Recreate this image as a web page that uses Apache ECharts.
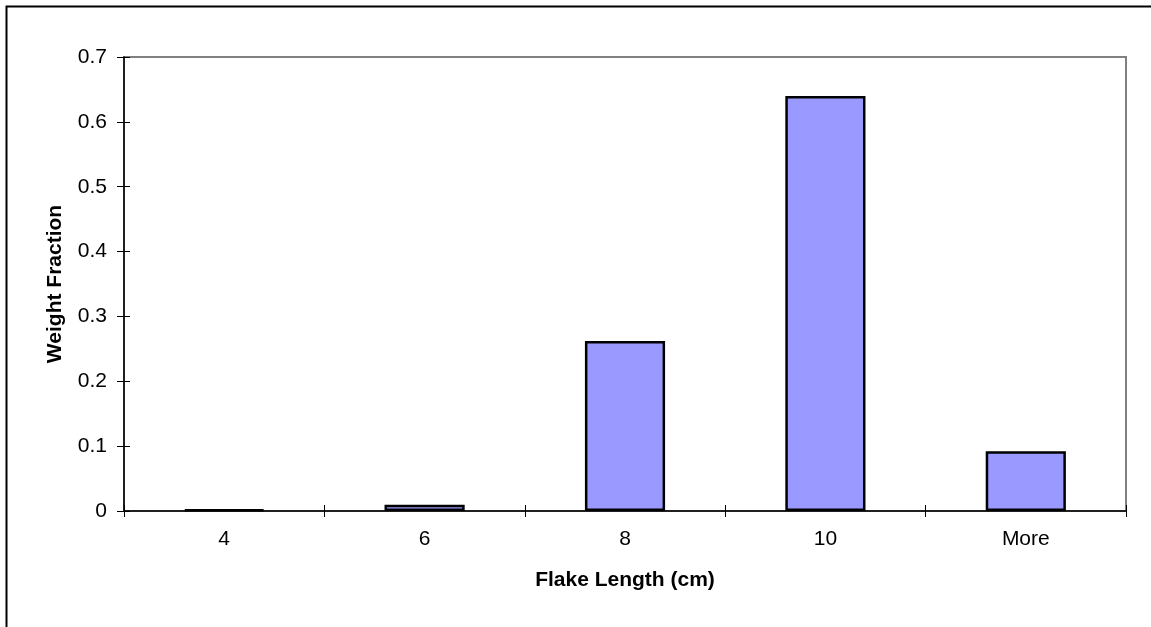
<!DOCTYPE html>
<html>
<head>
<meta charset="utf-8">
<script src="https://cdn.jsdelivr.net/npm/echarts@6/dist/echarts.min.js"></script>
<style>html,body{margin:0;padding:0;background:#fff}#c{width:1151px;height:627px}</style>
</head>
<body>
<div id="c"></div>
<script>
const categories = ['4', '6', '8', '10', 'More'];
const weightFraction = [0.002, 0.0095, 0.262, 0.64, 0.092];
const yTicks = [0, 0.1, 0.2, 0.3, 0.4, 0.5, 0.6, 0.7];

const chart = echarts.init(document.getElementById('c'), null, {renderer: 'canvas'});
const font = 'Liberation Sans, Arial, sans-serif';
const fs = 21;
chart.setOption({
  backgroundColor: '#fff',
  animation: false,
  graphic: [{
    type: 'rect', left: 4, top: 4, shape: {x: 0, y: 0, width: 1160, height: 640},
    style: {fill: 'none', stroke: '#000', lineWidth: 2}, z: -1
  }],
  grid: {left: 124, right: 25, top: 57, bottom: 116, show: true, borderColor: '#808080', borderWidth: 2, backgroundColor: 'transparent'},
  xAxis: [{
    type: 'category', data: categories,
    axisLine: {lineStyle: {color: '#000', width: 1.5}},
    axisTick: {show: true, length: 6, inside: false, lineStyle: {color: '#000', width: 1}},
    axisLabel: {color: '#000', fontSize: fs, fontFamily: font, margin: 18},
    name: 'Flake Length (cm)', nameLocation: 'middle', nameGap: 59,
    nameTextStyle: {color: '#000', fontSize: fs, fontWeight: 'bold', fontFamily: font}
  }, {
    type: 'category', data: categories, position: 'bottom',
    axisLine: {show: false},
    axisTick: {show: true, length: 6, inside: true, lineStyle: {color: '#000', width: 1}},
    axisLabel: {show: false}
  }],
  yAxis: [{
    type: 'value', min: 0, max: 0.7, interval: 0.1,
    splitLine: {show: false},
    axisLine: {show: true, lineStyle: {color: '#000', width: 1.5}},
    axisTick: {show: true, length: 7, inside: false, lineStyle: {color: '#000', width: 1}},
    axisLabel: {color: '#000', fontSize: fs, fontFamily: font, margin: 17,
      formatter: v => { const t = yTicks.find(x => Math.abs(x - v) < 1e-9); return t === undefined ? '' : String(t); }},
    name: 'Weight Fraction', nameLocation: 'middle', nameGap: 58,
    nameTextStyle: {color: '#000', fontSize: fs, fontWeight: 'bold', fontFamily: font}
  }, {
    type: 'value', min: 0, max: 0.7, interval: 0.1, position: 'left',
    splitLine: {show: false}, axisLine: {show: false},
    axisTick: {show: true, length: 6, inside: true, lineStyle: {color: '#000', width: 1}},
    axisLabel: {show: false}
  }],
  series: [{
    type: 'bar', data: weightFraction, barWidth: '40%',
    itemStyle: {color: '#9999FF', borderColor: '#000', borderWidth: 2.5}
  }]
});
</script>
</body>
</html>
